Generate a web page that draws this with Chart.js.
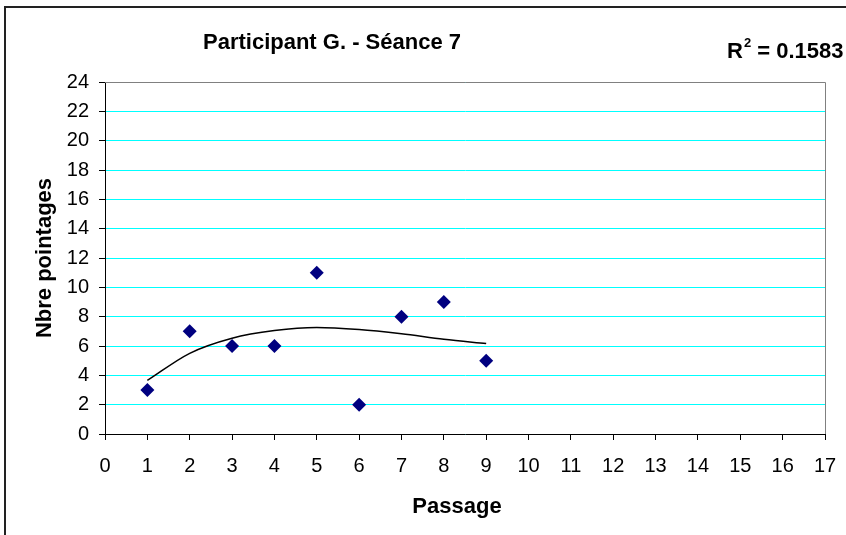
<!DOCTYPE html>
<html>
<head>
<meta charset="utf-8">
<script src="https://cdn.jsdelivr.net/npm/chart.js@4.4.0/dist/chart.umd.min.js"></script>
<style>
    html, body { margin: 0; padding: 0; background: #fff; }
    #wrap { width: 846px; height: 535px; }
</style>
</head>
<body>
<div id="wrap"><canvas id="chart" width="846" height="535"></canvas></div>
<script>
// Data
const passage = [1, 2, 3, 4, 5, 6, 7, 8, 9];
const pointages = [3, 7, 6, 6, 11, 2, 8, 9, 5];
// trend line (as drawn in the picture), one value per passage
const trendValues = [3.65, 5.5, 6.53, 7.05, 7.26, 7.12, 6.83, 6.46, 6.17];
const xRange = [0, 17];
const yRange = [0, 24];

const chartTitle = 'Participant G. - Séance 7';
const rSquared = '0.1583';
const xTitle = 'Passage';
const yTitle = 'Nbre pointages';

const FONT = "'Liberation Sans', Arial, sans-serif";

// titles, R² label, plot frame and outer border
const decorations = {
    id: 'decorations',
    afterDraw(chart) {
        const ctx = chart.ctx;
        const area = chart.chartArea;
        ctx.save();

        // plot area frame (top + right)
        ctx.strokeStyle = '#808080';
        ctx.lineWidth = 1;
        ctx.beginPath();
        ctx.moveTo(area.left, area.top + 0.5);
        ctx.lineTo(area.right + 0.5, area.top + 0.5);
        ctx.lineTo(area.right + 0.5, area.bottom);
        ctx.stroke();

        // outer chart border
        ctx.strokeStyle = '#222';
        ctx.lineWidth = 2;
        ctx.beginPath();
        ctx.moveTo(5, 535);
        ctx.lineTo(5, 7);
        ctx.lineTo(846, 7);
        ctx.stroke();

        ctx.fillStyle = '#000';
        ctx.textBaseline = 'alphabetic';

        // main title
        ctx.font = 'bold 22px ' + FONT;
        ctx.textAlign = 'left';
        ctx.fillText(chartTitle, 203, 49);

        // R² label
        let x = 727;
        ctx.fillText('R', x, 58);
        x += ctx.measureText('R').width;
        ctx.font = 'bold 13px ' + FONT;
        ctx.fillText('2', x + 1, 47);
        x += ctx.measureText('2').width + 1;
        ctx.font = 'bold 22px ' + FONT;
        ctx.fillText(' = ' + rSquared, x, 58);

        // axis titles
        ctx.textAlign = 'center';
        ctx.fillText(xTitle, 457, 513);
        ctx.translate(51, 258);
        ctx.rotate(-Math.PI / 2);
        ctx.fillText(yTitle, 0, 0);

        ctx.restore();
    }
};

const ctx = document.getElementById('chart').getContext('2d');
const chart = new Chart(ctx, {
    type: 'scatter',
    data: {
        datasets: [
            {
                label: 'Pointages',
                data: passage.map((p, i) => ({ x: p, y: pointages[i] })),
                pointStyle: 'rectRot',
                pointRadius: 7,
                pointHoverRadius: 7,
                backgroundColor: '#000080',
                borderColor: '#000080',
                borderWidth: 0,
                order: 1
            },
            {
                label: 'Tendance',
                type: 'line',
                data: passage.map((p, i) => ({ x: p, y: trendValues[i] })),
                borderColor: '#000',
                borderWidth: 1.5,
                pointRadius: 0,
                fill: false,
                cubicInterpolationMode: 'monotone',
                order: 2
            }
        ]
    },
    options: {
        responsive: false,
        animation: false,
        devicePixelRatio: 1,
        layout: {
            padding: { top: 82, right: 21, left: 0, bottom: 0 }
        },
        plugins: {
            legend: { display: false },
            tooltip: { enabled: false }
        },
        scales: {
            x: {
                type: 'linear',
                min: xRange[0],
                max: xRange[1],
                afterFit: scale => {
                    scale.height = 101;
                    scale.paddingLeft = 0;
                    scale.paddingRight = 0;
                },
                ticks: {
                    stepSize: 1,
                    color: '#000',
                    font: { family: FONT, size: 20 },
                    padding: 14,
                    maxRotation: 0,
                    autoSkip: false
                },
                grid: {
                    drawOnChartArea: false,
                    color: '#000',
                    tickColor: '#000',
                    tickLength: 6
                },
                border: { color: '#000', width: 1 }
            },
            y: {
                min: yRange[0],
                max: yRange[1],
                afterFit: scale => {
                    scale.width = 105;
                    scale.paddingTop = 0;
                    scale.paddingBottom = 0;
                },
                ticks: {
                    stepSize: 2,
                    color: '#000',
                    font: { family: FONT, size: 20 },
                    padding: 10,
                    autoSkip: false
                },
                grid: {
                    color: '#00ffff',
                    tickColor: '#000',
                    tickLength: 6
                },
                border: { color: '#000', width: 1 }
            }
        }
    },
    plugins: [decorations]
});
</script>
</body>
</html>
